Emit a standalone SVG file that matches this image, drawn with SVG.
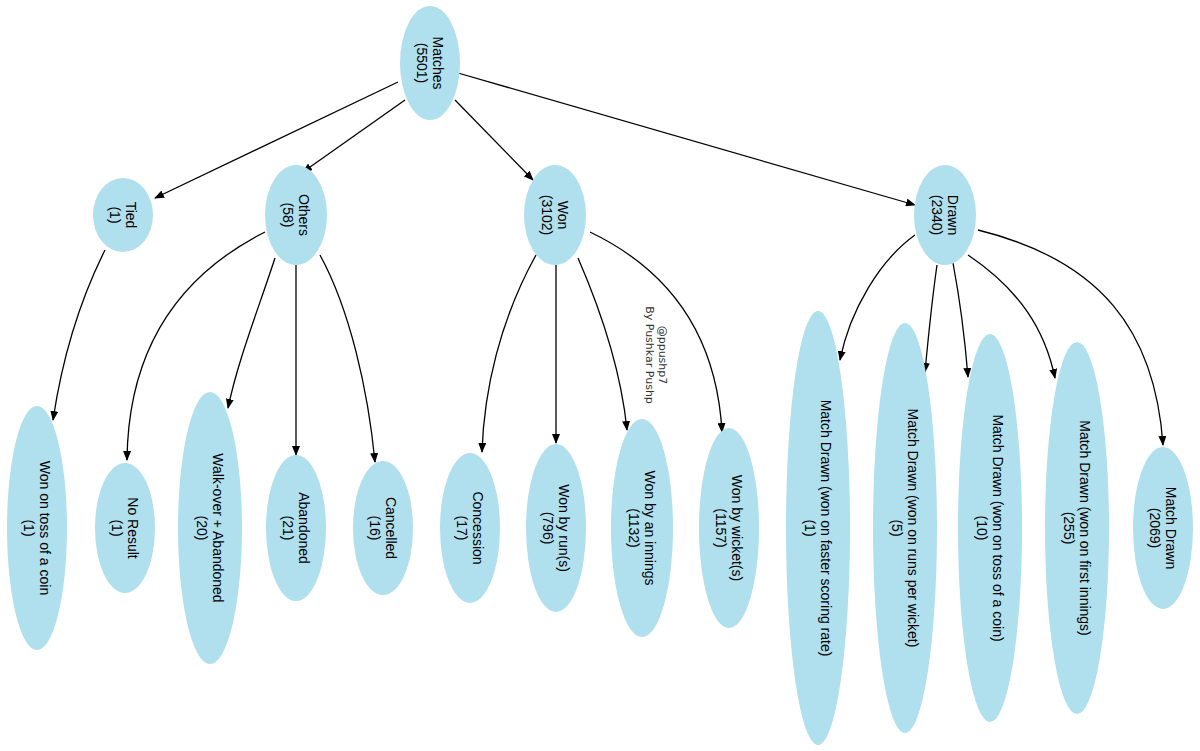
<svg xmlns="http://www.w3.org/2000/svg" width="1200" height="751" viewBox="0 0 1200 751">
<style>
.n ellipse{fill:#b0dfee;stroke:none}
.n text{font-family:"Liberation Sans",Arial,sans-serif;font-size:14px;fill:#000;text-anchor:middle}
.e path{fill:none;stroke:#000;stroke-width:1.3;marker-end:url(#a)}
.w{font-family:"DejaVu Sans",sans-serif;font-size:11px;fill:#333;text-anchor:middle}
</style>
<defs><marker id="a" markerWidth="10" markerHeight="8" refX="9" refY="4" orient="auto" markerUnits="userSpaceOnUse"><path d="M0,0 L10,4 L0,8 z" fill="#000"/></marker></defs>
<rect width="1200" height="751" fill="#fff"/>
<g class="e">
<path d="M398,82 L155,198"/>
<path d="M405,100 L303,172"/>
<path d="M455,100 L533,180"/>
<path d="M458,73 L915,205"/>
<path d="M105,250 C80,300 62,360 53,420"/>
<path d="M265,232 C170,280 128,360 127,460"/>
<path d="M275,258 C258,310 238,360 228,408"/>
<path d="M296,265 L296,455"/>
<path d="M320,255 C350,310 368,390 375,462"/>
<path d="M536,255 C500,320 484,390 482,452"/>
<path d="M556,265 L556,443"/>
<path d="M578,258 C605,320 622,380 627,430"/>
<path d="M590,232 C690,280 718,360 722,432"/>
<path d="M915,235 C880,260 850,310 840,360"/>
<path d="M937,265 C932,300 928,340 925,372"/>
<path d="M953,263 C960,300 965,340 968,377"/>
<path d="M968,255 C1020,290 1045,330 1055,378"/>
<path d="M978,230 C1100,260 1155,330 1163,445"/>
</g>
<g class="n" id="matches"><ellipse cx="430" cy="63" rx="30" ry="57"/><text transform="translate(430,63) rotate(90)"><tspan x="0" y="-3">Matches</tspan><tspan x="0" y="13">(5501)</tspan></text></g>
<g class="n" id="tied"><ellipse cx="123" cy="215" rx="30" ry="37"/><text transform="translate(123,215) rotate(90)"><tspan x="0" y="-3">Tied</tspan><tspan x="0" y="13">(1)</tspan></text></g>
<g class="n" id="others"><ellipse cx="296" cy="215" rx="31" ry="50"/><text transform="translate(296,215) rotate(90)"><tspan x="0" y="-3">Others</tspan><tspan x="0" y="13">(58)</tspan></text></g>
<g class="n" id="won"><ellipse cx="555" cy="215" rx="31" ry="50"/><text transform="translate(555,215) rotate(90)"><tspan x="0" y="-3">Won</tspan><tspan x="0" y="13">(3102)</tspan></text></g>
<g class="n" id="drawn"><ellipse cx="945" cy="215" rx="31" ry="50"/><text transform="translate(945,215) rotate(90)"><tspan x="0" y="-3">Drawn</tspan><tspan x="0" y="13">(2340)</tspan></text></g>
<g class="n" id="toss"><ellipse cx="37" cy="528" rx="30" ry="122"/><text transform="translate(37,528) rotate(90)"><tspan x="0" y="-3">Won on toss of a coin</tspan><tspan x="0" y="13">(1)</tspan></text></g>
<g class="n" id="noresult"><ellipse cx="125" cy="528" rx="30" ry="65"/><text transform="translate(125,528) rotate(90)"><tspan x="0" y="-3">No Result</tspan><tspan x="0" y="13">(1)</tspan></text></g>
<g class="n" id="walkover"><ellipse cx="210" cy="528" rx="32" ry="136"/><text transform="translate(210,528) rotate(90)"><tspan x="0" y="-3">Walk-over + Abandoned</tspan><tspan x="0" y="13">(20)</tspan></text></g>
<g class="n" id="abandoned"><ellipse cx="296" cy="528" rx="30" ry="73"/><text transform="translate(296,528) rotate(90)"><tspan x="0" y="-3">Abandoned</tspan><tspan x="0" y="13">(21)</tspan></text></g>
<g class="n" id="cancelled"><ellipse cx="383" cy="528" rx="30" ry="67"/><text transform="translate(383,528) rotate(90)"><tspan x="0" y="-3">Cancelled</tspan><tspan x="0" y="13">(16)</tspan></text></g>
<g class="n" id="concession"><ellipse cx="470" cy="528" rx="30" ry="75"/><text transform="translate(470,528) rotate(90)"><tspan x="0" y="-3">Concession</tspan><tspan x="0" y="13">(17)</tspan></text></g>
<g class="n" id="runs"><ellipse cx="556" cy="528" rx="30" ry="84"/><text transform="translate(556,528) rotate(90)"><tspan x="0" y="-3">Won by run(s)</tspan><tspan x="0" y="13">(796)</tspan></text></g>
<g class="n" id="innings"><ellipse cx="642" cy="528" rx="31" ry="109"/><text transform="translate(642,528) rotate(90)"><tspan x="0" y="-3">Won by an innings</tspan><tspan x="0" y="13">(1132)</tspan></text></g>
<g class="n" id="wickets"><ellipse cx="729" cy="528" rx="30" ry="100"/><text transform="translate(729,528) rotate(90)"><tspan x="0" y="-3">Won by wicket(s)</tspan><tspan x="0" y="13">(1157)</tspan></text></g>
<g class="n" id="faster"><ellipse cx="818" cy="528" rx="32" ry="217"/><text transform="translate(818,528) rotate(90)"><tspan x="0" y="-3">Match Drawn (won on faster scoring rate)</tspan><tspan x="0" y="13">(1)</tspan></text></g>
<g class="n" id="rpw"><ellipse cx="905" cy="528" rx="32" ry="205"/><text transform="translate(905,528) rotate(90)"><tspan x="0" y="-3">Match Drawn (won on runs per wicket)</tspan><tspan x="0" y="13">(5)</tspan></text></g>
<g class="n" id="dtoss"><ellipse cx="990" cy="528" rx="32" ry="194"/><text transform="translate(990,528) rotate(90)"><tspan x="0" y="-3">Match Drawn (won on toss of a coin)</tspan><tspan x="0" y="13">(10)</tspan></text></g>
<g class="n" id="first"><ellipse cx="1077" cy="528" rx="32" ry="186"/><text transform="translate(1077,528) rotate(90)"><tspan x="0" y="-3">Match Drawn (won on first innings)</tspan><tspan x="0" y="13">(255)</tspan></text></g>
<g class="n" id="md"><ellipse cx="1163" cy="528" rx="30" ry="81"/><text transform="translate(1163,528) rotate(90)"><tspan x="0" y="-3">Match Drawn</tspan><tspan x="0" y="13">(2069)</tspan></text></g>
<text class="w" transform="translate(655,355) rotate(90)"><tspan x="0" y="-4">@ppushp7</tspan><tspan x="0" y="9">By Pushkar Pushp</tspan></text>
</svg>
